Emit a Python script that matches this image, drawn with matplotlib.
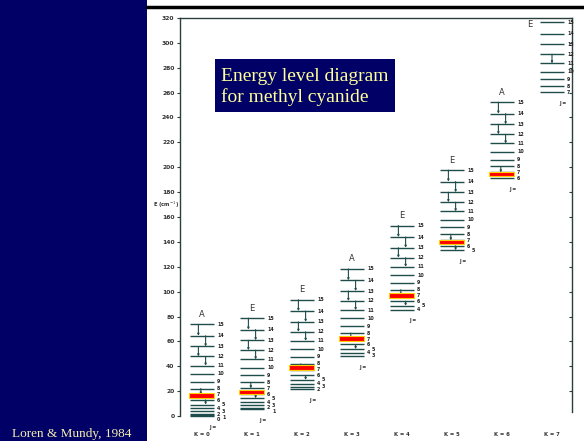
import matplotlib
matplotlib.use('Agg')
import matplotlib.pyplot as plt
from matplotlib.patches import Rectangle

# energy levels (cm^-1), J = K ... 15 for each K ladder
k_values = [0, 1, 2, 3, 4, 5, 6, 7]
symmetry = ['A', 'E', 'E', 'A', 'E', 'E', 'A', 'E']
level_k0 = [0, 0.6, 1.8, 3.7, 6.1, 9.2, 12.9, 17.2, 22.1, 27.6, 33.8, 40.5, 47.9, 55.9, 64.5, 73.7]
level_k1 = [5.6, 6.8, 8.6, 11.1, 14.2, 17.9, 22.2, 27.1, 32.6, 38.8, 45.5, 52.9, 60.9, 69.5, 78.7]
level_k2 = [21.7, 23.5, 26.0, 29.0, 32.7, 37.0, 41.9, 47.5, 53.6, 60.4, 67.7, 75.7, 84.4, 93.5]
level_k3 = [48.3, 50.7, 53.8, 57.5, 61.8, 66.7, 72.2, 78.4, 85.1, 92.5, 100.5, 109.1, 118.3]
level_k4 = [85.5, 88.6, 92.3, 96.6, 101.5, 107.0, 113.2, 119.9, 127.3, 135.3, 143.9, 153.1]
level_k5 = [133.2, 136.9, 141.2, 146.1, 151.6, 157.8, 164.5, 171.9, 179.9, 188.5, 197.7]
level_k6 = [191.5, 195.8, 200.7, 206.2, 212.4, 219.1, 226.5, 234.5, 243.1, 252.3]
level_k7 = [260.2, 265.1, 270.6, 276.8, 283.5, 290.9, 298.9, 307.5, 316.7]
levels = [level_k0, level_k1, level_k2, level_k3, level_k4, level_k5, level_k6, level_k7]

# highlighted (J=7) levels, as they sit in the scan
red_levels = [16.5, 19.5, 39, 62.5, 97, 140, 194.5]

# transitions drawn inside each ladder (J upper, J lower)
trans_full = [(15, 14), (14, 13), (13, 12), (12, 11), (8, 7), (6, 5)]
transitions = [trans_full, trans_full, trans_full, trans_full, trans_full, trans_full,
               trans_full[:5], [(12, 11)]]
trans_pos = {(15, 14): 0.35, (14, 13): 0.65, (13, 12): 0.35, (12, 11): 0.65,
             (8, 7): 0.45, (6, 5): 0.65}

line_col = '#1f4d4b'
navy = '#000066'

fig = plt.figure(figsize=(5.84, 4.41), dpi=100)

# slide decorations
fig.add_artist(Rectangle((0, 0), 147 / 584, 1, transform=fig.transFigure,
                         facecolor=navy, edgecolor='none', zorder=0))
fig.add_artist(plt.Line2D([147 / 584, 1], [1 - 6.5 / 441, 1 - 6.5 / 441],
                          transform=fig.transFigure, color='black', lw=2.5))
fig.text(12 / 584, 1 - 437 / 441, 'Loren & Mundy, 1984', family='Liberation Serif',
         fontsize=9.5, color='#f5f0b0', va='baseline', ha='left')

ax = fig.add_axes([180 / 584, 0.0059, 392 / 584, 0.9533])
ax.set_xlim(-0.44, 7.4)
ax.set_ylim(-18, 320)

hw = 0.24
gap = 4.6
for k, lv in zip(k_values, levels):
    c = k
    js = list(range(k, 16))
    ax.hlines(lv, c - hw, c + hw, color=line_col, lw=1.0, zorder=2)

    # J labels: crowded ones go into a second column
    col_last = [1e9, 1e9]
    lowest = 1e9
    for j, e in sorted(zip(js, lv), reverse=True):
        y0 = min(e, col_last[0] - gap)
        y1 = min(e, col_last[1] - gap)
        col = 0 if (y0 >= e - 1.0 or y0 >= y1) else 1
        y = y0 if col == 0 else y1
        col_last[col] = y
        lowest = min(lowest, y)
        ax.text(c + hw + 0.06 + 0.1 * col, y, str(j), fontsize=3.4, fontweight='bold',
                color='#222222', va='center', ha='left')

    for (ju, jl) in transitions[k]:
        xp = c - hw + 2 * hw * (0.5 if k == 7 else trans_pos[(ju, jl)])
        ax.annotate('', xy=(xp, lv[jl - k]), xytext=(xp, lv[ju - k]),
                    arrowprops=dict(arrowstyle='-|>', lw=0.8, color=line_col,
                                    mutation_scale=2.5, shrinkA=0, shrinkB=0), zorder=2)

    ax.text(c + hw - 0.02, min(lv[0] - 9, lowest - 5.5), 'J =', fontsize=3.4,
            fontweight='bold', color='#333333', ha='center', va='center')
    ax.text(c, -15, 'K = %d' % k, fontsize=3.8, fontweight='bold',
            color='#333333', ha='center', va='center')
    if k < 7:
        ax.text(c, lv[-1] + 8, symmetry[k], fontsize=6, color='#333333',
                ha='center', va='center')
    else:
        ax.text(c - hw - 0.2, lv[-1] - 2, symmetry[k], fontsize=6, color='#333333',
                ha='center', va='center')

for k, e in enumerate(red_levels):
    ax.add_patch(Rectangle((k - hw - 0.02, e - 1.8), 2 * hw + 0.02, 3.6,
                           facecolor='#ff0000', edgecolor='#ffd000', lw=0.8, zorder=4))

ax.spines['bottom'].set_visible(False)
for side in ['left', 'right', 'top']:
    ax.spines[side].set_color('#2a3f3d')
    ax.spines[side].set_linewidth(1.0)
ax.spines['left'].set_bounds(0, 320)
ax.spines['right'].set_bounds(3, 320)
ax.set_xticks([])
ax.set_yticks(range(0, 321, 20))
ax.tick_params(axis='y', direction='out', length=2.5, width=0.8, color='#2a3f3d',
               labelsize=4.3, labelcolor='#333333', pad=1.5)
for t in ax.get_yticklabels():
    t.set_fontweight('bold')
ax.text(-0.036, 170, 'E (cm$^{-1}$)', transform=ax.get_yaxis_transform(),
        fontsize=3.8, fontweight='bold', color='#333333', ha='center', va='center')

ax2 = ax.twinx()
ax2.set_ylim(-18, 320)
ax2.set_yticks(range(20, 321, 20))
ax2.tick_params(axis='y', direction='in', length=2.5, width=0.8, color='#2a3f3d',
                labelright=False)
for side in ['left', 'top', 'bottom', 'right']:
    ax2.spines[side].set_visible(False)

# title box
fig.add_artist(Rectangle((215 / 584, 1 - 112 / 441), 180 / 584, 53 / 441,
                         transform=fig.transFigure, facecolor=navy, edgecolor='none', zorder=5))
fig.text(221 / 584, 1 - 81 / 441, 'Energy level diagram', family='Liberation Serif',
         fontsize=14, color='#ffff99', va='baseline', ha='left', zorder=6)
fig.text(221 / 584, 1 - 102 / 441, 'for methyl cyanide', family='Liberation Serif',
         fontsize=14, color='#ffff99', va='baseline', ha='left', zorder=6)

fig.savefig('out.png', dpi=100)
